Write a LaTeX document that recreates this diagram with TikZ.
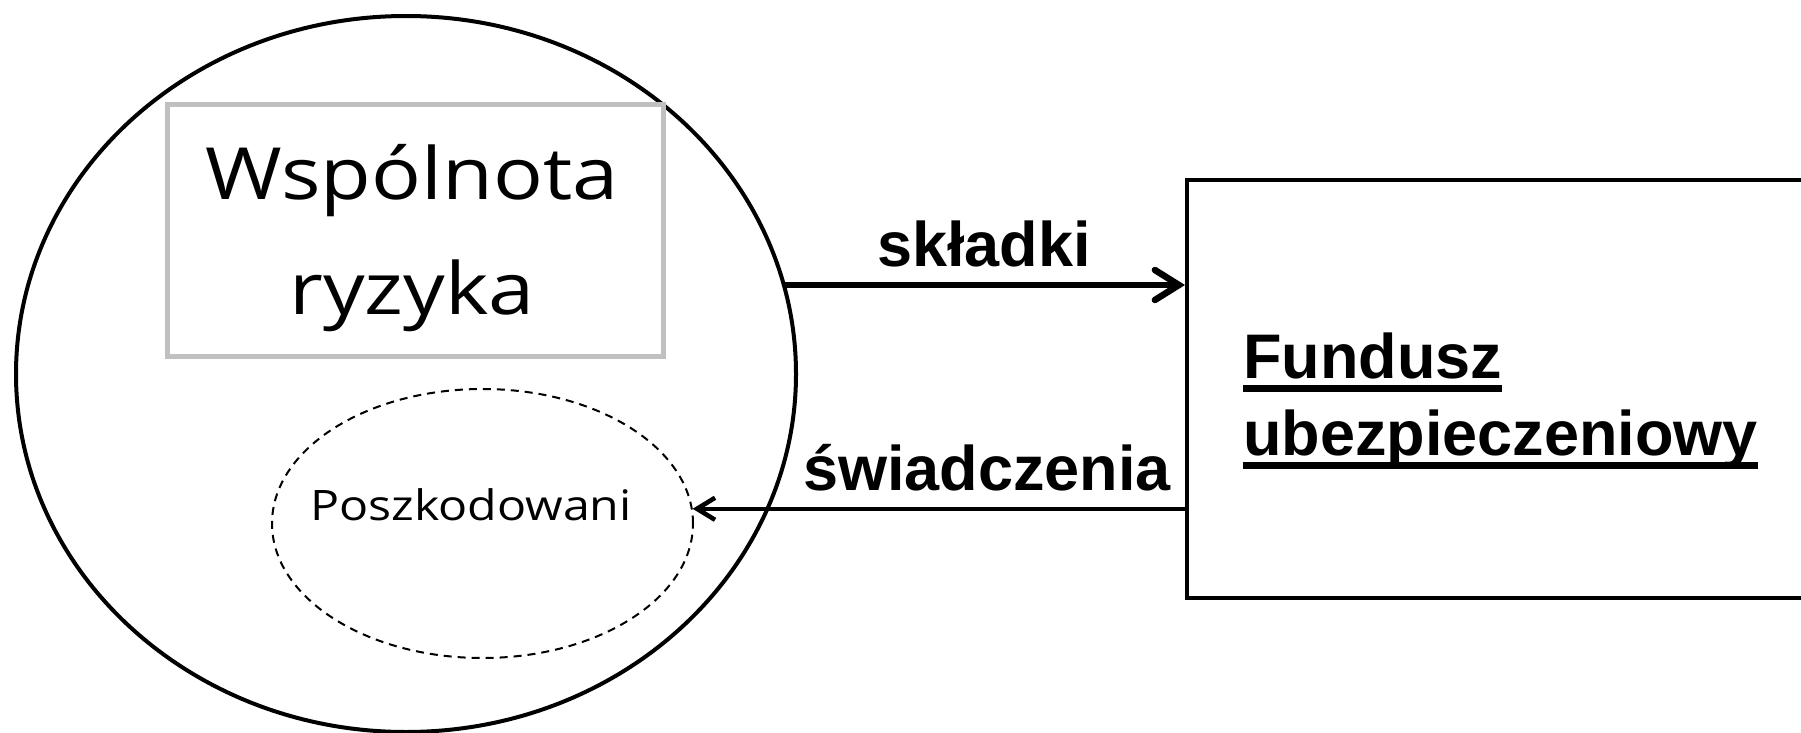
\documentclass[tikz,border=0pt]{standalone}
\usepackage{fontspec}
\setmainfont{Liberation Sans}
\newfontfamily\handfont[FakeStretch=1.15]{Open Sans}
\usetikzlibrary{shapes.geometric,arrows.meta}
\newcommand\myul[1]{\setbox0\hbox{#1}\rlap{\rule[-14pt]{\wd0}{7pt}}\box0}
\definecolor{boxgray}{HTML}{C0C0C0}
\definecolor{shadowgray}{HTML}{8C8C8C}
\tikzset{
  outerell/.style={ellipse, draw, line width=4pt, inner sep=0pt},
  dashell/.style={ellipse, draw, line width=2pt, dash pattern=on 8pt off 6pt, inner sep=0pt},
  riskframe/.style={rectangle, draw=boxgray, line width=5pt, inner sep=0pt},
  fundframe/.style={rectangle, draw, line width=4pt, inner sep=0pt},
  handbig/.style={inner sep=0pt, anchor=base, font=\handfont\fontsize{72}{115}\selectfont},
  handsmall/.style={inner sep=0pt, anchor=base, font=\handfont\fontsize{42}{50}\selectfont},
  boldlabel/.style={inner sep=0pt, anchor=base, font=\bfseries\fontsize{63}{77}\selectfont},
  fundlabel/.style={inner sep=0pt, anchor=base west, align=left, font=\bfseries\fontsize{63}{77}\selectfont},
  flowin/.style={line width=6.5pt, -{Straight Barb[length=24pt, width=30pt, line cap=round]}},
  flowout/.style={line width=4.5pt, -{Straight Barb[length=18pt, width=22pt]}},
  flowshadow/.style={draw=shadowgray, line width=4pt, -{Straight Barb[length=18pt, width=22pt]}}
}
\begin{document}
\begin{tikzpicture}[x=1pt,y=-1pt]
\useasboundingbox (0,0) rectangle (1801,733);
\clip (0,0) rectangle (1801,733);
\node[outerell, minimum width=780pt, minimum height=716pt] (outer) at (406,374) {};
\node[riskframe, minimum width=496pt, minimum height=251pt] (risk) at (415,230.5) {};
\node[handbig] (wsp1) at (412,199) {Wspólnota};
\node[handbig] (wsp2) at (412,314) {ryzyka};
\node[dashell, minimum width=421pt, minimum height=269pt] (pos) at (482.5,523.5) {};
\node[handsmall] (poszk) at (471,520) {Poszkodowani};
\node[fundframe, minimum width=650pt, minimum height=418pt] (fund) at (1512,389) {};
\node[fundlabel] (fundtext) at (1243,455) {\myul{Fundusz}\\\myul{ubezpieczeniowy}};
\node[boldlabel] (skl) at (984,266) {składki};
\node[boldlabel] (swi) at (987,490) {świadczenia};
\coordinate (sk1) at (784,285);
\draw[flowin] (sk1) -- (sk1 -| fund.west);
\draw[flowshadow, yshift=-4pt] (pos.4.6 -| fund.west) -- (pos.4.6);
\draw[flowout] (pos.4.6 -| fund.west) -- (pos.4.6);
\end{tikzpicture}
\end{document}
